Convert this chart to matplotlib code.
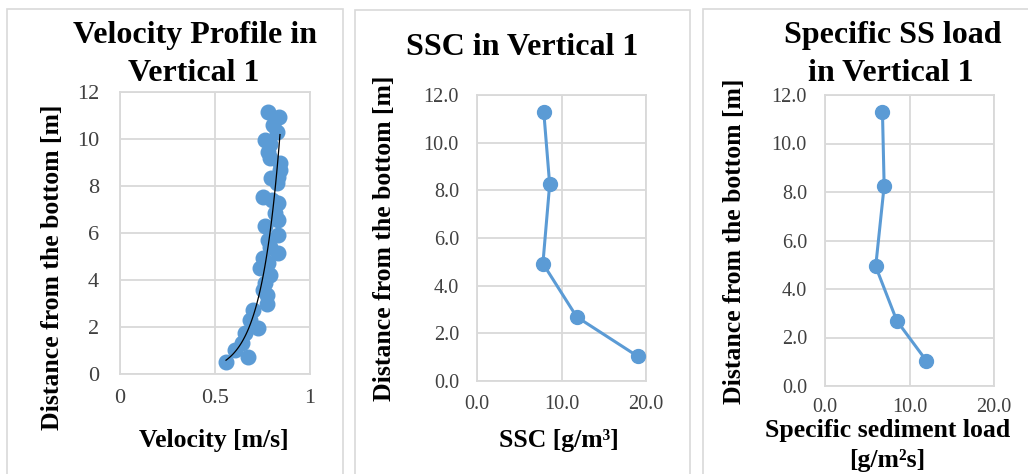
import matplotlib.pyplot as plt
import numpy as np
from matplotlib.patches import Rectangle

plt.rcParams['font.family'] = ['Liberation Serif', 'DejaVu Serif']

# velocity profile, vertical 1
velocity = [0.777, 0.837, 0.807, 0.825, 0.763, 0.79, 0.78, 0.79, 0.842, 0.842,
            0.833, 0.795, 0.825, 0.754, 0.798, 0.833, 0.816, 0.833, 0.763, 0.833,
            0.78, 0.79, 0.833, 0.754, 0.78, 0.737, 0.79, 0.763, 0.754, 0.772,
            0.772, 0.702, 0.684, 0.728, 0.658, 0.64, 0.605, 0.675, 0.558]
vel_depth = [11.15, 10.95, 10.6, 10.3, 9.96, 9.8, 9.46, 9.18, 8.96, 8.68,
             8.4, 8.33, 8.11, 7.52, 7.4, 7.26, 6.84, 6.55, 6.31, 5.91,
             5.7, 5.42, 5.13, 4.92, 4.71, 4.5, 4.21, 3.86, 3.57, 3.36,
             3.0, 2.72, 2.3, 1.94, 1.73, 1.3, 1.02, 0.74, 0.52]

# sampling depths for SSC and load
sample_depth = [11.3, 8.25, 4.93, 2.69, 1.04]
ssc = [7.9, 8.6, 7.8, 11.8, 19.0]
ss_load = [6.8, 7.0, 6.0, 8.5, 12.0]

blue = '#5B9BD5'
grid_c = '#d9d9d9'
tick_c = '#404040'
W, H = 1028, 474

fig = plt.figure(figsize=(W / 100, H / 100), dpi=100)


def fx(px):
    return px / W


def fy(py):
    return 1 - py / H


# panel frames
for x0, x1, top in [(7, 343, 9), (355, 690, 10), (703, 1035, 9)]:
    fig.patches.append(Rectangle((fx(x0), fy(H + 10)), fx(x1 - x0), (H + 10 - top) / H,
                                 transform=fig.transFigure, fill=False,
                                 edgecolor=grid_c, lw=1.2))


def make_ax(left, right, top, bottom, xmax, xstep, fs, padx, pady):
    ax = fig.add_axes([fx(left), fy(bottom), fx(right - left), (bottom - top) / H])
    ax.set_xlim(0, xmax)
    ax.set_ylim(0, 12)
    ax.set_xticks(np.arange(0, xmax + xstep / 2, xstep))
    ax.set_yticks(np.arange(0, 12.1, 2))
    ax.grid(True, color=grid_c, lw=1.3)
    ax.set_axisbelow(True)
    for s in ax.spines.values():
        s.set_color(grid_c)
        s.set_linewidth(1.3)
    ax.tick_params(length=0, labelsize=fs, colors=tick_c)
    ax.tick_params(axis='x', pad=padx)
    ax.tick_params(axis='y', pad=pady)
    return ax


title_kw = dict(fontsize=23, fontweight='bold', ha='center', va='baseline')
label_kw = dict(fontsize=18.5, fontweight='bold', ha='center')

# panel 1: velocity
ax1 = make_ax(120, 310, 92, 374, 1, 0.5, 16, 11, 15)
ax1.set_xticklabels(['0', '0.5', '1'])
ax1.set_yticklabels([str(v) for v in range(0, 13, 2)])
ax1.plot(velocity, vel_depth, 'o', color=blue, ms=10.5, zorder=3)
# exponential trendline (depth = a*exp(b*v)) over the velocity range
b, ln_a = np.polyfit(velocity, np.log(vel_depth), 1)
vv = np.linspace(min(velocity), max(velocity), 100)
ax1.plot(vv, np.exp(ln_a + b * vv), color='black', lw=0.9, zorder=4)

fig.text(fx(195), fy(43), 'Velocity Profile in', **title_kw)
fig.text(fx(194), fy(81), 'Vertical 1', **title_kw)
fig.text(fx(53), fy(267), 'Distance from the bottom [m]', rotation=90,
         va='center', **label_kw)
fig.text(fx(214), fy(447), 'Velocity [m/s]', va='baseline', **label_kw)

# panel 2: SSC
ax2 = make_ax(477, 646, 95, 381, 20, 10, 14.5, 10, 13)
ax2.xaxis.set_major_formatter('{x:.1f}')
ax2.yaxis.set_major_formatter('{x:.1f}')
ax2.plot(ssc, sample_depth, '-o', color=blue, lw=2.2, ms=10, zorder=3)

fig.text(fx(522), fy(55), 'SSC in Vertical 1', **title_kw)
fig.text(fx(385), fy(238), 'Distance from the bottom [m]', rotation=90,
         va='center', **label_kw)
fig.text(fx(559), fy(447), 'SSC [g/m\u00b3]', va='baseline', **label_kw)

# panel 3: specific SS load
ax3 = make_ax(825, 994, 95, 386, 20, 10, 14.5, 9, 13)
ax3.xaxis.set_major_formatter('{x:.1f}')
ax3.yaxis.set_major_formatter('{x:.1f}')
ax3.plot(ss_load, sample_depth, '-o', color=blue, lw=2.2, ms=10, zorder=3)

fig.text(fx(893), fy(43), 'Specific SS load', **title_kw)
fig.text(fx(891), fy(81), 'in Vertical 1', **title_kw)
fig.text(fx(735), fy(241), 'Distance from the bottom [m]', rotation=90,
         va='center', **label_kw)
fig.text(fx(888), fy(437), 'Specific sediment load', va='baseline', **label_kw)
fig.text(fx(887), fy(467), '[g/m\u00b2s]', va='baseline', **label_kw)

fig.savefig('out.png', dpi=100, facecolor='white')
